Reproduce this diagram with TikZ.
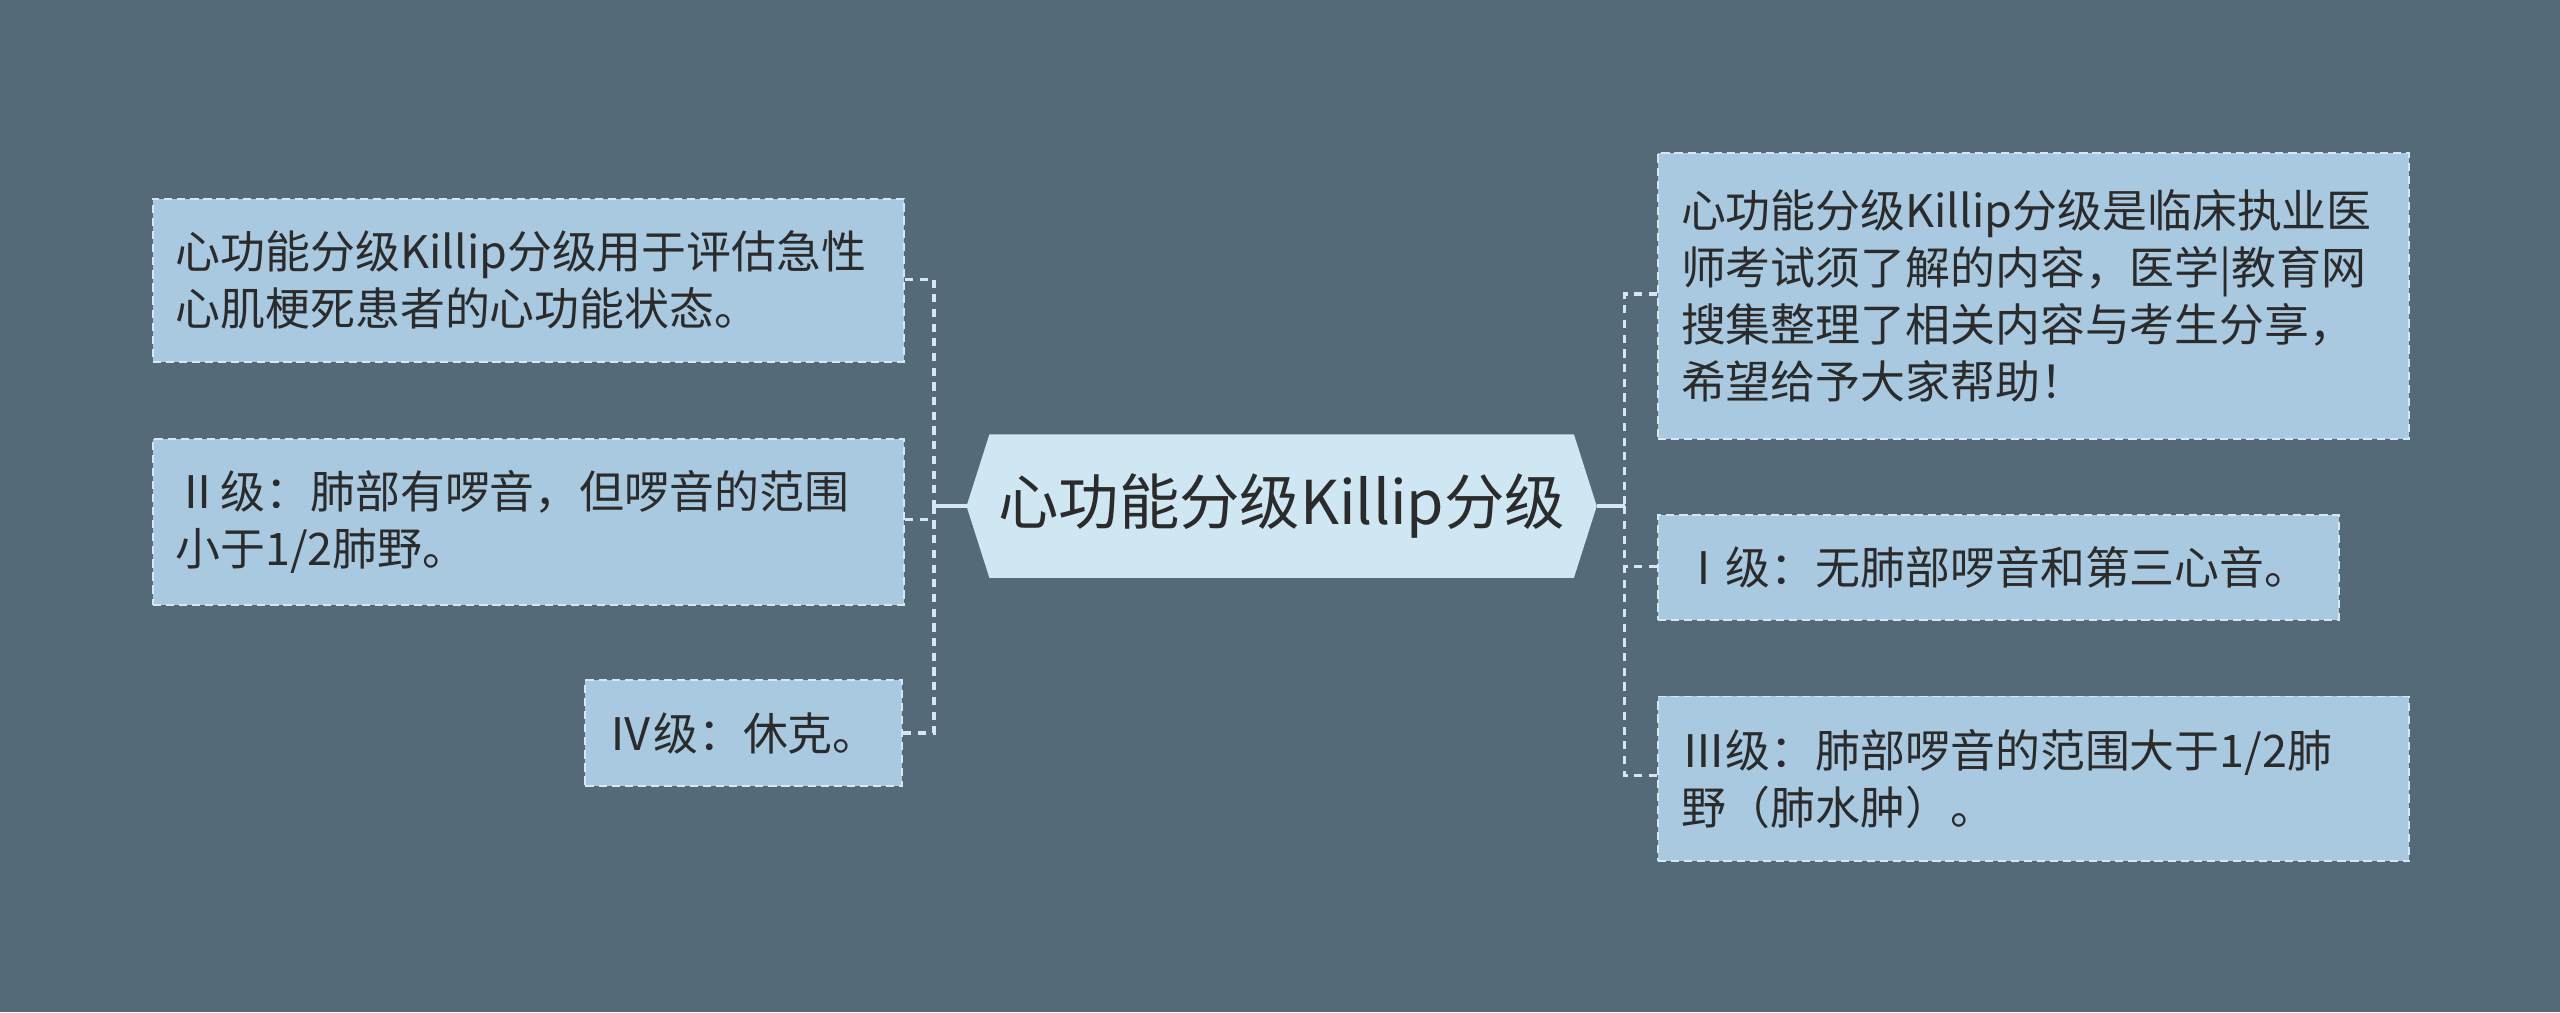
\documentclass[tikz,border=0pt]{standalone}
\usepackage{fontspec}
\setmainfont{Noto Sans CJK SC}
\begin{document}
\begin{tikzpicture}[x=1pt,y=-1pt,
  bx/.style={draw=boxline,fill=boxfill,dash pattern=on 5pt off 3pt,line width=1.2pt,anchor=north west,inner xsep=14pt,inner ysep=0pt,align=left,text=txt,font=\fontsize{27.5}{35}\selectfont},
  ln/.style={draw=boxline,line width=2pt,dash pattern=on 5pt off 4pt}]
\definecolor{bg}{HTML}{546A79}
\definecolor{boxfill}{HTML}{A9C9E1}
\definecolor{boxline}{HTML}{D6E7F3}
\definecolor{cfill}{HTML}{CFE6F3}
\definecolor{txt}{HTML}{2B2B2B}
\fill[bg] (0,0) rectangle (1568,620);
\useasboundingbox (0,0) rectangle (1568,620);
% center
\fill[cfill] (592,310)--(606,266)--(964,266)--(978,310)--(964,354)--(606,354)--cycle;
\node[text=txt,font=\fontsize{37}{42}\selectfont] (c) at (785,310) {心功能分级Killip分级};
\coordinate (cl) at (592,310); \coordinate (cr) at (978,310);
% left
\node[bx,text width=432pt,minimum height=100pt] (l1) at (93,121) {心功能分级Killip分级用于评估急性\\心肌梗死患者的心功能状态。};
\node[bx,text width=432pt,minimum height=102pt] (l2) at (93,268) {Ⅱ级：肺部有啰音，但啰音的范围\\小于1/2肺野。};
\node[bx,text width=166pt,minimum height=65pt] (l3) at (358,416) {Ⅳ级：休克。};
% right
\node[bx,text width=432pt,minimum height=175pt] (r1) at (1015,93) {心功能分级Killip分级是临床执业医\\师考试须了解的内容，医学|教育网\\搜集整理了相关内容与考生分享，\\希望给予大家帮助！};
\node[bx,text width=389pt,minimum height=64pt] (r2) at (1015,315) {Ⅰ级：无肺部啰音和第三心音。};
\node[bx,text width=432pt,minimum height=101pt] (r3) at (1015,426) {Ⅲ级：肺部啰音的范围大于1/2肺\\野（肺水肿）。};
% connectors
\coordinate (lj) at (572,310); \coordinate (rj) at (995,310);
\draw[draw=boxline,line width=2pt] (cl)--(lj);
\draw[draw=boxline,line width=2pt] (cr)--(rj);
\draw[ln] (l1.east|-0,171) -| (lj);
\draw[ln] (l2.east|-0,318) -- (572,318);
\draw[ln] (l3.east|-0,449) -| (lj);
\draw[ln] (r1.west|-0,180) -| (rj);
\draw[ln] (r2.west|-0,347) -- (995,347);
\draw[ln] (r3.west|-0,475) -| (rj);
\end{tikzpicture}
\end{document}
